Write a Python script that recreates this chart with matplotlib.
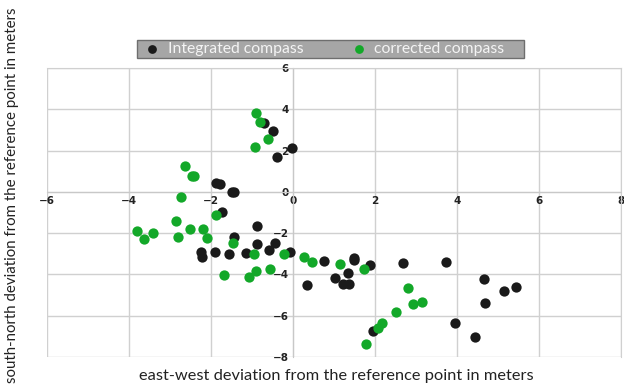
import numpy as np
import matplotlib
matplotlib.use('Agg')
import matplotlib.pyplot as plt
from matplotlib.patches import Rectangle

# deviations in meters (east-west, south-north)
integrated_x = [-0.71, -0.49, -0.02, -0.38, -1.89, -1.79, -1.49, -1.43, -1.72, -0.87,
                -1.43, -0.87, -0.43, -2.24, -2.22, -1.91, -1.57, -1.15, -0.59, -0.07,
                0.33, 0.76, 1.03, 1.23, 1.36, 1.34, 1.48, 1.50, 1.89, 2.69,
                3.72, 1.95, 3.94, 4.45, 4.67, 4.69, 5.14, 5.45]
integrated_y = [3.34, 2.94, 2.13, 1.69, 0.44, 0.37, 0.00, -0.02, -0.98, -1.65,
                -2.18, -2.52, -2.49, -2.92, -3.15, -2.91, -2.99, -2.95, -2.84, -2.90,
                -4.53, -3.37, -4.16, -4.44, -4.44, -3.95, -3.21, -3.31, -3.52, -3.44,
                -3.42, -6.76, -6.34, -7.02, -4.20, -5.37, -4.82, -4.61]

corrected_x = [-0.91, -0.81, -0.62, -0.92, -2.64, -2.46, -2.41, -2.72, -1.89, -2.85,
               -3.80, -3.63, -3.42, -2.80, -2.50, -2.20, -2.10, -1.46, -1.69, -0.95,
               -1.07, -0.91, -0.55, -0.23, 0.26, 0.46, 1.14, 1.74, 2.80, 2.93,
               3.14, 2.52, 2.17, 2.07, 1.79]
corrected_y = [3.82, 3.37, 2.56, 2.16, 1.23, 0.79, 0.76, -0.23, -1.13, -1.40,
               -1.90, -2.28, -1.99, -2.18, -1.79, -1.82, -2.23, -2.47, -4.05, -3.03,
               -4.13, -3.84, -3.73, -3.00, -3.15, -3.40, -3.49, -3.76, -4.66, -5.42,
               -5.32, -5.82, -6.37, -6.58, -7.39]

x_ticks = [-6, -4, -2, 0, 2, 4, 6, 8]
y_ticks = [-8, -6, -4, -2, 0, 2, 4, 6]

W, H = 624, 392
fig = plt.figure(figsize=(W / 100, H / 100), dpi=100)
ax = fig.add_axes([47 / W, 1 - 357 / H, 574 / W, 289 / H])

ax.scatter(integrated_x, integrated_y, s=55, color='#1a1a1a', zorder=3,
           label='Integrated compass', linewidths=0)
ax.scatter(corrected_x, corrected_y, s=55, color='#13a829', zorder=3,
           label='corrected compass', linewidths=0)

ax.set_xlim(-6, 8)
ax.set_ylim(-8, 6)
ax.set_xticks(x_ticks)
ax.set_yticks(y_ticks)
ax.grid(True, color='#d0d0d0', linewidth=1, zorder=0)
ax.set_axisbelow(True)

for side in ['top', 'right']:
    ax.spines[side].set_color('#d0d0d0')
ax.spines['left'].set_position(('data', 0))
ax.spines['bottom'].set_position(('data', 0))
ax.spines['left'].set_color('#c8c8c8')
ax.spines['bottom'].set_color('#c8c8c8')
ax.tick_params(length=0, labelsize=7.5, colors='#222222', pad=3)
for lbl in ax.get_xticklabels() + ax.get_yticklabels():
    lbl.set_fontweight('bold')

# legend box (gray band with dark outline)
fig.patches.append(Rectangle((137 / W, 1 - 58 / H), 387 / W, 18 / H,
                             transform=fig.transFigure, facecolor='#a6a6a6',
                             edgecolor='#6e6e6e', linewidth=1, zorder=1))
leg = fig.legend(loc='center left', bbox_to_anchor=(143 / W, 1 - 49 / H), ncol=2,
                 frameon=False, labelcolor='#f4f4f4', markerscale=0.85,
                 prop={'family': 'Lato', 'size': 11.3}, columnspacing=2.9,
                 handletextpad=0.4, borderpad=0, borderaxespad=0, handlelength=1.2)
leg.set_zorder(2)

fig.text(336 / W, 1 - 376 / H, 'east-west deviation from the reference point in meters',
         ha='center', va='center', fontsize=11.8, family='Lato', color='#222222')
fig.text(12 / W, 1 - 195 / H, 'south-north deviation from the reference point in meters',
         ha='center', va='center', rotation=90, fontsize=10.8, family='Lato', color='#222222')

fig.savefig('out.png', dpi=100)
